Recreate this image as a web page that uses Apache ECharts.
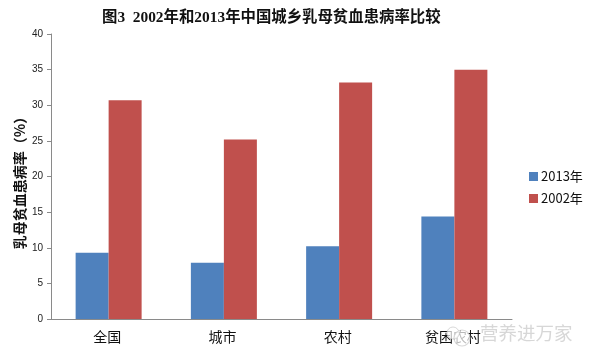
<!DOCTYPE html>
<html><head><meta charset="utf-8">
<style>html,body{margin:0;padding:0;background:#fff}#c{width:590px;height:363px}</style>
<script src="https://cdn.jsdelivr.net/npm/echarts@6/dist/echarts.min.js"></script></head>
<body><div id="c"></div>
<script>
const categories = ['全国','城市','农村','贫困农村'];
const y2013 = [9.3,7.9,10.2,14.4];
const y2002 = [30.7,25.2,33.2,35.0];
const yTicks = {min:0,max:40,interval:5};
const chart = echarts.init(document.getElementById('c'),null,{renderer:'canvas'});
const cjk = '"Noto Sans CJK SC","DejaVu Sans",sans-serif';
chart.setOption({
  animation:false,
  backgroundColor:'#fff',
  title:{text:'图3  2002年和2013年中国城乡乳母贫血患病率比较',left:102,top:10,padding:0,
    textStyle:{fontFamily:'"Liberation Serif","Noto Sans CJK SC",serif',fontSize:15.4,fontWeight:'bold',color:'#111'}},
  legend:{orient:'vertical',left:529,top:170,padding:0,itemWidth:9,itemHeight:9,itemGap:9,icon:'rect',
    textStyle:{fontFamily:cjk,fontSize:13,color:'#111',padding:[0,0,0,-2]},
    data:['2013年','2002年']},
  grid:{left:51,right:78,top:34,bottom:44},
  xAxis:{type:'category',data:categories,
    axisLine:{lineStyle:{color:'#8a8a8a',width:1}},axisTick:{show:false},
    axisLabel:{fontFamily:cjk,fontSize:14,color:'#111',margin:11,interval:0,padding:[0,3,0,0]}},
  yAxis:{type:'value',...yTicks,
    name:'乳母贫血患病率（%）',nameLocation:'middle',nameGap:24,nameMoveOverlap:false,
    nameTextStyle:{fontFamily:cjk,fontSize:14,fontWeight:'bold',color:'#111',padding:[0,6,0,0]},
    axisLine:{show:true,lineStyle:{color:'#8a8a8a',width:1}},
    axisTick:{show:true,length:4,lineStyle:{color:'#8a8a8a'}},
    axisLabel:{fontFamily:'"Liberation Sans",sans-serif',fontSize:10,color:'#222',margin:8},
    splitLine:{show:false}},
  series:[
    {name:'2013年',type:'bar',data:y2013,barWidth:33,barGap:'0%',itemStyle:{color:'#4f81bd'}},
    {name:'2002年',type:'bar',data:y2002,barWidth:33,itemStyle:{color:'#c0504d'}}
  ],
  graphic:[
    {type:'circle',shape:{cx:453,cy:333,r:6},z:50,style:{fill:'rgba(255,255,255,0.7)',stroke:'rgba(200,200,200,0.7)',lineWidth:1}},
    {type:'circle',shape:{cx:462,cy:338,r:8},z:50,style:{fill:'rgba(255,255,255,0.7)',stroke:'rgba(200,200,200,0.7)',lineWidth:1.2}},
    {type:'text',left:480,top:324,z:50,style:{text:'营养进万家',fontFamily:cjk,fontSize:18.5,fill:'rgba(205,205,205,0.8)'}}
  ]
});
</script></body></html>
